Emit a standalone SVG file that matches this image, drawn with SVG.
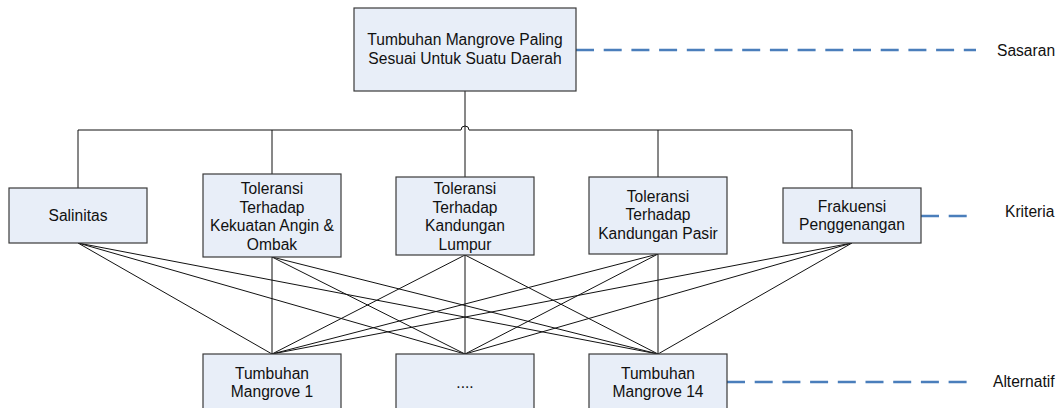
<svg xmlns="http://www.w3.org/2000/svg" width="1058" height="408" viewBox="0 0 1058 408">
<style>
.box{fill:#e8eef8;stroke:#3a3a3a;stroke-width:1.2}
.t{font-family:"Liberation Sans",Arial,sans-serif;font-size:15.6px;fill:#111}
.m{text-anchor:middle}
.c{stroke:#111;stroke-width:1;fill:none}
.d{stroke:#4a7ebb;stroke-width:2.5;stroke-dasharray:18 9.7;fill:none}
</style>
<rect width="1058" height="408" fill="#fff"/>
<g id="connectors">
<path class="c" d="M465 91V177"/>
<path class="c" d="M78 188V130H461A4 4 0 0 1 469 130H852V188"/>
<path class="c" d="M272 130V174M658 130V177"/>
<path class="c" d="M78 243L272 354M78 243L465 354M78 243L658 354"/>
<path class="c" d="M272 257L272 354M272 257L465 354M272 257L658 354"/>
<path class="c" d="M465 255L272 354M465 255L465 354M465 255L658 354"/>
<path class="c" d="M658 254L272 354M658 254L465 354M658 254L658 354"/>
<path class="c" d="M852 243L272 354M852 243L465 354M852 243L658 354"/>
<path class="d" d="M576 50H976"/>
<path class="d" d="M921 216H967"/>
<path class="d" d="M727 382H970"/>
</g>
<g id="goal">
<rect class="box" x="354" y="8" width="222" height="83"/>
<text class="t m" x="465" y="45">Tumbuhan Mangrove Paling</text>
<text class="t m" x="465" y="64">Sesuai Untuk Suatu Daerah</text>
</g>
<g id="c1">
<rect class="box" x="9" y="188" width="138" height="55"/>
<text class="t m" x="78" y="221">Salinitas</text>
</g>
<g id="c2">
<rect class="box" x="203" y="174" width="138" height="83"/>
<text class="t m" x="272" y="194">Toleransi</text>
<text class="t m" x="272" y="212.5">Terhadap</text>
<text class="t m" x="272" y="231">Kekuatan Angin &amp;</text>
<text class="t m" x="272" y="249.5">Ombak</text>
</g>
<g id="c3">
<rect class="box" x="396" y="177" width="138" height="78"/>
<text class="t m" x="465" y="194">Toleransi</text>
<text class="t m" x="465" y="212.5">Terhadap</text>
<text class="t m" x="465" y="231">Kandungan</text>
<text class="t m" x="465" y="249.5">Lumpur</text>
</g>
<g id="c4">
<rect class="box" x="589" y="177" width="138" height="77"/>
<text class="t m" x="658" y="201.5">Toleransi</text>
<text class="t m" x="658" y="220">Terhadap</text>
<text class="t m" x="658" y="238.5">Kandungan Pasir</text>
</g>
<g id="c5">
<rect class="box" x="783" y="188" width="138" height="55"/>
<text class="t m" x="852" y="211.5">Frakuensi</text>
<text class="t m" x="852" y="230">Penggenangan</text>
</g>
<g id="a1">
<rect class="box" x="203" y="354" width="138" height="70"/>
<text class="t m" x="272" y="378.5">Tumbuhan</text>
<text class="t m" x="272" y="397">Mangrove 1</text>
</g>
<g id="a2">
<rect class="box" x="396" y="354" width="138" height="70"/>
<text class="t m" x="465" y="388">....</text>
</g>
<g id="a3">
<rect class="box" x="589" y="354" width="138" height="70"/>
<text class="t m" x="658" y="378.5">Tumbuhan</text>
<text class="t m" x="658" y="397">Mangrove 14</text>
</g>
<g id="labels">
<text class="t" x="997" y="56">Sasaran</text>
<text class="t" x="1005" y="217">Kriteria</text>
<text class="t" x="993" y="387">Alternatif</text>
</g>
</svg>
